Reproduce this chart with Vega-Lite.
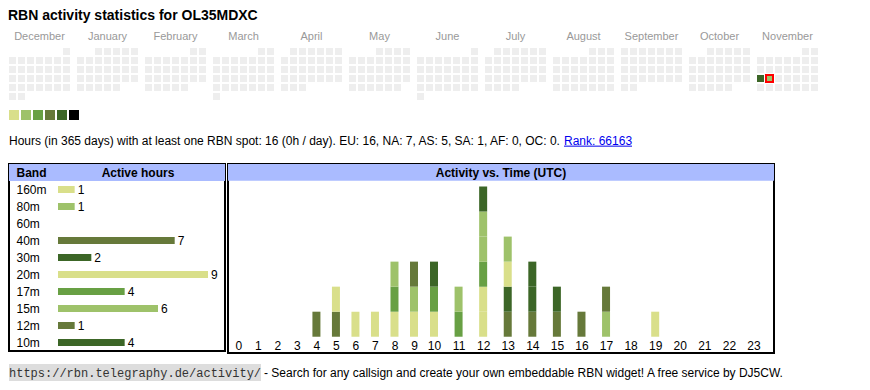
{
"$schema":"https://vega.github.io/schema/vega-lite/v6.json",
"padding":{"left":8,"top":9,"right":0,"bottom":0},
"background":"white",
"config":{"font":"Liberation Sans","view":{"stroke":null},"axis":{"grid":false,"domain":false,"ticks":false,"tickSize":0,"title":null}},
"title":{"text":"RBN activity statistics for OL35MDXC","anchor":"start","fontSize":14,"fontWeight":"bold","color":"#000000","font":"Liberation Sans","offset":7},
"datasets":{
"activity":[
{"hour":4,"band":"40m","order":1,"active":1},
{"hour":5,"band":"40m","order":1,"active":1},{"hour":5,"band":"20m","order":2,"active":1},
{"hour":6,"band":"20m","order":1,"active":1},
{"hour":7,"band":"20m","order":1,"active":1},
{"hour":8,"band":"20m","order":1,"active":1},{"hour":8,"band":"17m","order":2,"active":1},{"hour":8,"band":"15m","order":3,"active":1},
{"hour":9,"band":"20m","order":1,"active":1},{"hour":9,"band":"15m","order":2,"active":1},{"hour":9,"band":"12m","order":3,"active":1},
{"hour":10,"band":"20m","order":1,"active":1},{"hour":10,"band":"17m","order":2,"active":1},{"hour":10,"band":"10m","order":3,"active":1},
{"hour":11,"band":"17m","order":1,"active":1},{"hour":11,"band":"15m","order":2,"active":1},
{"hour":12,"band":"160m","order":1,"active":1},{"hour":12,"band":"20m","order":2,"active":1},{"hour":12,"band":"17m","order":3,"active":1},{"hour":12,"band":"80m","order":4,"active":1},{"hour":12,"band":"15m","order":5,"active":1},{"hour":12,"band":"10m","order":6,"active":1},
{"hour":13,"band":"40m","order":1,"active":1},{"hour":13,"band":"30m","order":2,"active":1},{"hour":13,"band":"20m","order":3,"active":1},{"hour":13,"band":"15m","order":4,"active":1},
{"hour":14,"band":"40m","order":1,"active":1},{"hour":14,"band":"30m","order":2,"active":1},{"hour":14,"band":"10m","order":3,"active":1},
{"hour":15,"band":"40m","order":1,"active":1},{"hour":15,"band":"10m","order":2,"active":1},
{"hour":16,"band":"40m","order":1,"active":1},
{"hour":17,"band":"15m","order":1,"active":1},{"hour":17,"band":"40m","order":2,"active":1},
{"hour":19,"band":"20m","order":1,"active":1}
],
"calendar":[
{"month":"December","week":0,"dow":6,"hours":0},
{"month":"December","week":1,"dow":0,"hours":0},{"month":"December","week":1,"dow":1,"hours":0},{"month":"December","week":1,"dow":2,"hours":0},{"month":"December","week":1,"dow":3,"hours":0},{"month":"December","week":1,"dow":4,"hours":0},{"month":"December","week":1,"dow":5,"hours":0},{"month":"December","week":1,"dow":6,"hours":0},
{"month":"December","week":2,"dow":0,"hours":0},{"month":"December","week":2,"dow":1,"hours":0},{"month":"December","week":2,"dow":2,"hours":0},{"month":"December","week":2,"dow":3,"hours":0},{"month":"December","week":2,"dow":4,"hours":0},{"month":"December","week":2,"dow":5,"hours":0},{"month":"December","week":2,"dow":6,"hours":0},
{"month":"December","week":3,"dow":0,"hours":0},{"month":"December","week":3,"dow":1,"hours":0},{"month":"December","week":3,"dow":2,"hours":0},{"month":"December","week":3,"dow":3,"hours":0},{"month":"December","week":3,"dow":4,"hours":0},{"month":"December","week":3,"dow":5,"hours":0},{"month":"December","week":3,"dow":6,"hours":0},
{"month":"December","week":4,"dow":0,"hours":0},{"month":"December","week":4,"dow":1,"hours":0},{"month":"December","week":4,"dow":2,"hours":0},{"month":"December","week":4,"dow":3,"hours":0},{"month":"December","week":4,"dow":4,"hours":0},{"month":"December","week":4,"dow":5,"hours":0},{"month":"December","week":4,"dow":6,"hours":0},
{"month":"December","week":5,"dow":0,"hours":0},{"month":"December","week":5,"dow":1,"hours":0},
{"month":"January","week":0,"dow":2,"hours":0},{"month":"January","week":0,"dow":3,"hours":0},{"month":"January","week":0,"dow":4,"hours":0},{"month":"January","week":0,"dow":5,"hours":0},{"month":"January","week":0,"dow":6,"hours":0},
{"month":"January","week":1,"dow":0,"hours":0},{"month":"January","week":1,"dow":1,"hours":0},{"month":"January","week":1,"dow":2,"hours":0},{"month":"January","week":1,"dow":3,"hours":0},{"month":"January","week":1,"dow":4,"hours":0},{"month":"January","week":1,"dow":5,"hours":0},{"month":"January","week":1,"dow":6,"hours":0},
{"month":"January","week":2,"dow":0,"hours":0},{"month":"January","week":2,"dow":1,"hours":0},{"month":"January","week":2,"dow":2,"hours":0},{"month":"January","week":2,"dow":3,"hours":0},{"month":"January","week":2,"dow":4,"hours":0},{"month":"January","week":2,"dow":5,"hours":0},{"month":"January","week":2,"dow":6,"hours":0},
{"month":"January","week":3,"dow":0,"hours":0},{"month":"January","week":3,"dow":1,"hours":0},{"month":"January","week":3,"dow":2,"hours":0},{"month":"January","week":3,"dow":3,"hours":0},{"month":"January","week":3,"dow":4,"hours":0},{"month":"January","week":3,"dow":5,"hours":0},{"month":"January","week":3,"dow":6,"hours":0},
{"month":"January","week":4,"dow":0,"hours":0},{"month":"January","week":4,"dow":1,"hours":0},{"month":"January","week":4,"dow":2,"hours":0},{"month":"January","week":4,"dow":3,"hours":0},{"month":"January","week":4,"dow":4,"hours":0},
{"month":"February","week":0,"dow":5,"hours":0},{"month":"February","week":0,"dow":6,"hours":0},
{"month":"February","week":1,"dow":0,"hours":0},{"month":"February","week":1,"dow":1,"hours":0},{"month":"February","week":1,"dow":2,"hours":0},{"month":"February","week":1,"dow":3,"hours":0},{"month":"February","week":1,"dow":4,"hours":0},{"month":"February","week":1,"dow":5,"hours":0},{"month":"February","week":1,"dow":6,"hours":0},
{"month":"February","week":2,"dow":0,"hours":0},{"month":"February","week":2,"dow":1,"hours":0},{"month":"February","week":2,"dow":2,"hours":0},{"month":"February","week":2,"dow":3,"hours":0},{"month":"February","week":2,"dow":4,"hours":0},{"month":"February","week":2,"dow":5,"hours":0},{"month":"February","week":2,"dow":6,"hours":0},
{"month":"February","week":3,"dow":0,"hours":0},{"month":"February","week":3,"dow":1,"hours":0},{"month":"February","week":3,"dow":2,"hours":0},{"month":"February","week":3,"dow":3,"hours":0},{"month":"February","week":3,"dow":4,"hours":0},{"month":"February","week":3,"dow":5,"hours":0},{"month":"February","week":3,"dow":6,"hours":0},
{"month":"February","week":4,"dow":0,"hours":0},{"month":"February","week":4,"dow":1,"hours":0},{"month":"February","week":4,"dow":2,"hours":0},{"month":"February","week":4,"dow":3,"hours":0},{"month":"February","week":4,"dow":4,"hours":0},
{"month":"March","week":0,"dow":5,"hours":0},{"month":"March","week":0,"dow":6,"hours":0},
{"month":"March","week":1,"dow":0,"hours":0},{"month":"March","week":1,"dow":1,"hours":0},{"month":"March","week":1,"dow":2,"hours":0},{"month":"March","week":1,"dow":3,"hours":0},{"month":"March","week":1,"dow":4,"hours":0},{"month":"March","week":1,"dow":5,"hours":0},{"month":"March","week":1,"dow":6,"hours":0},
{"month":"March","week":2,"dow":0,"hours":0},{"month":"March","week":2,"dow":1,"hours":0},{"month":"March","week":2,"dow":2,"hours":0},{"month":"March","week":2,"dow":3,"hours":0},{"month":"March","week":2,"dow":4,"hours":0},{"month":"March","week":2,"dow":5,"hours":0},{"month":"March","week":2,"dow":6,"hours":0},
{"month":"March","week":3,"dow":0,"hours":0},{"month":"March","week":3,"dow":1,"hours":0},{"month":"March","week":3,"dow":2,"hours":0},{"month":"March","week":3,"dow":3,"hours":0},{"month":"March","week":3,"dow":4,"hours":0},{"month":"March","week":3,"dow":5,"hours":0},{"month":"March","week":3,"dow":6,"hours":0},
{"month":"March","week":4,"dow":0,"hours":0},{"month":"March","week":4,"dow":1,"hours":0},{"month":"March","week":4,"dow":2,"hours":0},{"month":"March","week":4,"dow":3,"hours":0},{"month":"March","week":4,"dow":4,"hours":0},{"month":"March","week":4,"dow":5,"hours":0},{"month":"March","week":4,"dow":6,"hours":0},
{"month":"March","week":5,"dow":0,"hours":0},
{"month":"April","week":0,"dow":1,"hours":0},{"month":"April","week":0,"dow":2,"hours":0},{"month":"April","week":0,"dow":3,"hours":0},{"month":"April","week":0,"dow":4,"hours":0},{"month":"April","week":0,"dow":5,"hours":0},{"month":"April","week":0,"dow":6,"hours":0},
{"month":"April","week":1,"dow":0,"hours":0},{"month":"April","week":1,"dow":1,"hours":0},{"month":"April","week":1,"dow":2,"hours":0},{"month":"April","week":1,"dow":3,"hours":0},{"month":"April","week":1,"dow":4,"hours":0},{"month":"April","week":1,"dow":5,"hours":0},{"month":"April","week":1,"dow":6,"hours":0},
{"month":"April","week":2,"dow":0,"hours":0},{"month":"April","week":2,"dow":1,"hours":0},{"month":"April","week":2,"dow":2,"hours":0},{"month":"April","week":2,"dow":3,"hours":0},{"month":"April","week":2,"dow":4,"hours":0},{"month":"April","week":2,"dow":5,"hours":0},{"month":"April","week":2,"dow":6,"hours":0},
{"month":"April","week":3,"dow":0,"hours":0},{"month":"April","week":3,"dow":1,"hours":0},{"month":"April","week":3,"dow":2,"hours":0},{"month":"April","week":3,"dow":3,"hours":0},{"month":"April","week":3,"dow":4,"hours":0},{"month":"April","week":3,"dow":5,"hours":0},{"month":"April","week":3,"dow":6,"hours":0},
{"month":"April","week":4,"dow":0,"hours":0},{"month":"April","week":4,"dow":1,"hours":0},{"month":"April","week":4,"dow":2,"hours":0},
{"month":"May","week":0,"dow":3,"hours":0},{"month":"May","week":0,"dow":4,"hours":0},{"month":"May","week":0,"dow":5,"hours":0},{"month":"May","week":0,"dow":6,"hours":0},
{"month":"May","week":1,"dow":0,"hours":0},{"month":"May","week":1,"dow":1,"hours":0},{"month":"May","week":1,"dow":2,"hours":0},{"month":"May","week":1,"dow":3,"hours":0},{"month":"May","week":1,"dow":4,"hours":0},{"month":"May","week":1,"dow":5,"hours":0},{"month":"May","week":1,"dow":6,"hours":0},
{"month":"May","week":2,"dow":0,"hours":0},{"month":"May","week":2,"dow":1,"hours":0},{"month":"May","week":2,"dow":2,"hours":0},{"month":"May","week":2,"dow":3,"hours":0},{"month":"May","week":2,"dow":4,"hours":0},{"month":"May","week":2,"dow":5,"hours":0},{"month":"May","week":2,"dow":6,"hours":0},
{"month":"May","week":3,"dow":0,"hours":0},{"month":"May","week":3,"dow":1,"hours":0},{"month":"May","week":3,"dow":2,"hours":0},{"month":"May","week":3,"dow":3,"hours":0},{"month":"May","week":3,"dow":4,"hours":0},{"month":"May","week":3,"dow":5,"hours":0},{"month":"May","week":3,"dow":6,"hours":0},
{"month":"May","week":4,"dow":0,"hours":0},{"month":"May","week":4,"dow":1,"hours":0},{"month":"May","week":4,"dow":2,"hours":0},{"month":"May","week":4,"dow":3,"hours":0},{"month":"May","week":4,"dow":4,"hours":0},{"month":"May","week":4,"dow":5,"hours":0},
{"month":"June","week":0,"dow":6,"hours":0},
{"month":"June","week":1,"dow":0,"hours":0},{"month":"June","week":1,"dow":1,"hours":0},{"month":"June","week":1,"dow":2,"hours":0},{"month":"June","week":1,"dow":3,"hours":0},{"month":"June","week":1,"dow":4,"hours":0},{"month":"June","week":1,"dow":5,"hours":0},{"month":"June","week":1,"dow":6,"hours":0},
{"month":"June","week":2,"dow":0,"hours":0},{"month":"June","week":2,"dow":1,"hours":0},{"month":"June","week":2,"dow":2,"hours":0},{"month":"June","week":2,"dow":3,"hours":0},{"month":"June","week":2,"dow":4,"hours":0},{"month":"June","week":2,"dow":5,"hours":0},{"month":"June","week":2,"dow":6,"hours":0},
{"month":"June","week":3,"dow":0,"hours":0},{"month":"June","week":3,"dow":1,"hours":0},{"month":"June","week":3,"dow":2,"hours":0},{"month":"June","week":3,"dow":3,"hours":0},{"month":"June","week":3,"dow":4,"hours":0},{"month":"June","week":3,"dow":5,"hours":0},{"month":"June","week":3,"dow":6,"hours":0},
{"month":"June","week":4,"dow":0,"hours":0},{"month":"June","week":4,"dow":1,"hours":0},{"month":"June","week":4,"dow":2,"hours":0},{"month":"June","week":4,"dow":3,"hours":0},{"month":"June","week":4,"dow":4,"hours":0},{"month":"June","week":4,"dow":5,"hours":0},{"month":"June","week":4,"dow":6,"hours":0},
{"month":"June","week":5,"dow":0,"hours":0},
{"month":"July","week":0,"dow":1,"hours":0},{"month":"July","week":0,"dow":2,"hours":0},{"month":"July","week":0,"dow":3,"hours":0},{"month":"July","week":0,"dow":4,"hours":0},{"month":"July","week":0,"dow":5,"hours":0},{"month":"July","week":0,"dow":6,"hours":0},
{"month":"July","week":1,"dow":0,"hours":0},{"month":"July","week":1,"dow":1,"hours":0},{"month":"July","week":1,"dow":2,"hours":0},{"month":"July","week":1,"dow":3,"hours":0},{"month":"July","week":1,"dow":4,"hours":0},{"month":"July","week":1,"dow":5,"hours":0},{"month":"July","week":1,"dow":6,"hours":0},
{"month":"July","week":2,"dow":0,"hours":0},{"month":"July","week":2,"dow":1,"hours":0},{"month":"July","week":2,"dow":2,"hours":0},{"month":"July","week":2,"dow":3,"hours":0},{"month":"July","week":2,"dow":4,"hours":0},{"month":"July","week":2,"dow":5,"hours":0},{"month":"July","week":2,"dow":6,"hours":0},
{"month":"July","week":3,"dow":0,"hours":0},{"month":"July","week":3,"dow":1,"hours":0},{"month":"July","week":3,"dow":2,"hours":0},{"month":"July","week":3,"dow":3,"hours":0},{"month":"July","week":3,"dow":4,"hours":0},{"month":"July","week":3,"dow":5,"hours":0},{"month":"July","week":3,"dow":6,"hours":0},
{"month":"July","week":4,"dow":0,"hours":0},{"month":"July","week":4,"dow":1,"hours":0},{"month":"July","week":4,"dow":2,"hours":0},{"month":"July","week":4,"dow":3,"hours":0},
{"month":"August","week":0,"dow":4,"hours":0},{"month":"August","week":0,"dow":5,"hours":0},{"month":"August","week":0,"dow":6,"hours":0},
{"month":"August","week":1,"dow":0,"hours":0},{"month":"August","week":1,"dow":1,"hours":0},{"month":"August","week":1,"dow":2,"hours":0},{"month":"August","week":1,"dow":3,"hours":0},{"month":"August","week":1,"dow":4,"hours":0},{"month":"August","week":1,"dow":5,"hours":0},{"month":"August","week":1,"dow":6,"hours":0},
{"month":"August","week":2,"dow":0,"hours":0},{"month":"August","week":2,"dow":1,"hours":0},{"month":"August","week":2,"dow":2,"hours":0},{"month":"August","week":2,"dow":3,"hours":0},{"month":"August","week":2,"dow":4,"hours":0},{"month":"August","week":2,"dow":5,"hours":0},{"month":"August","week":2,"dow":6,"hours":0},
{"month":"August","week":3,"dow":0,"hours":0},{"month":"August","week":3,"dow":1,"hours":0},{"month":"August","week":3,"dow":2,"hours":0},{"month":"August","week":3,"dow":3,"hours":0},{"month":"August","week":3,"dow":4,"hours":0},{"month":"August","week":3,"dow":5,"hours":0},{"month":"August","week":3,"dow":6,"hours":0},
{"month":"August","week":4,"dow":0,"hours":0},{"month":"August","week":4,"dow":1,"hours":0},{"month":"August","week":4,"dow":2,"hours":0},{"month":"August","week":4,"dow":3,"hours":0},{"month":"August","week":4,"dow":4,"hours":0},{"month":"August","week":4,"dow":5,"hours":0},{"month":"August","week":4,"dow":6,"hours":0},
{"month":"September","week":0,"dow":0,"hours":0},{"month":"September","week":0,"dow":1,"hours":0},{"month":"September","week":0,"dow":2,"hours":0},{"month":"September","week":0,"dow":3,"hours":0},{"month":"September","week":0,"dow":4,"hours":0},{"month":"September","week":0,"dow":5,"hours":0},{"month":"September","week":0,"dow":6,"hours":0},
{"month":"September","week":1,"dow":0,"hours":0},{"month":"September","week":1,"dow":1,"hours":0},{"month":"September","week":1,"dow":2,"hours":0},{"month":"September","week":1,"dow":3,"hours":0},{"month":"September","week":1,"dow":4,"hours":0},{"month":"September","week":1,"dow":5,"hours":0},{"month":"September","week":1,"dow":6,"hours":0},
{"month":"September","week":2,"dow":0,"hours":0},{"month":"September","week":2,"dow":1,"hours":0},{"month":"September","week":2,"dow":2,"hours":0},{"month":"September","week":2,"dow":3,"hours":0},{"month":"September","week":2,"dow":4,"hours":0},{"month":"September","week":2,"dow":5,"hours":0},{"month":"September","week":2,"dow":6,"hours":0},
{"month":"September","week":3,"dow":0,"hours":0},{"month":"September","week":3,"dow":1,"hours":0},{"month":"September","week":3,"dow":2,"hours":0},{"month":"September","week":3,"dow":3,"hours":0},{"month":"September","week":3,"dow":4,"hours":0},{"month":"September","week":3,"dow":5,"hours":0},{"month":"September","week":3,"dow":6,"hours":0},
{"month":"September","week":4,"dow":0,"hours":0},{"month":"September","week":4,"dow":1,"hours":0},
{"month":"October","week":0,"dow":2,"hours":0},{"month":"October","week":0,"dow":3,"hours":0},{"month":"October","week":0,"dow":4,"hours":0},{"month":"October","week":0,"dow":5,"hours":0},{"month":"October","week":0,"dow":6,"hours":0},
{"month":"October","week":1,"dow":0,"hours":0},{"month":"October","week":1,"dow":1,"hours":0},{"month":"October","week":1,"dow":2,"hours":0},{"month":"October","week":1,"dow":3,"hours":0},{"month":"October","week":1,"dow":4,"hours":0},{"month":"October","week":1,"dow":5,"hours":0},{"month":"October","week":1,"dow":6,"hours":0},
{"month":"October","week":2,"dow":0,"hours":0},{"month":"October","week":2,"dow":1,"hours":0},{"month":"October","week":2,"dow":2,"hours":0},{"month":"October","week":2,"dow":3,"hours":0},{"month":"October","week":2,"dow":4,"hours":0},{"month":"October","week":2,"dow":5,"hours":0},{"month":"October","week":2,"dow":6,"hours":0},
{"month":"October","week":3,"dow":0,"hours":0},{"month":"October","week":3,"dow":1,"hours":0},{"month":"October","week":3,"dow":2,"hours":0},{"month":"October","week":3,"dow":3,"hours":0},{"month":"October","week":3,"dow":4,"hours":0},{"month":"October","week":3,"dow":5,"hours":0},{"month":"October","week":3,"dow":6,"hours":0},
{"month":"October","week":4,"dow":0,"hours":0},{"month":"October","week":4,"dow":1,"hours":0},{"month":"October","week":4,"dow":2,"hours":0},{"month":"October","week":4,"dow":3,"hours":0},{"month":"October","week":4,"dow":4,"hours":0},
{"month":"November","week":0,"dow":5,"hours":0},{"month":"November","week":0,"dow":6,"hours":0},
{"month":"November","week":1,"dow":0,"hours":0},{"month":"November","week":1,"dow":1,"hours":0},{"month":"November","week":1,"dow":2,"hours":0},{"month":"November","week":1,"dow":3,"hours":0},{"month":"November","week":1,"dow":4,"hours":0},{"month":"November","week":1,"dow":5,"hours":0},{"month":"November","week":1,"dow":6,"hours":0},
{"month":"November","week":2,"dow":0,"hours":0},{"month":"November","week":2,"dow":1,"hours":0},{"month":"November","week":2,"dow":2,"hours":0},{"month":"November","week":2,"dow":3,"hours":0},{"month":"November","week":2,"dow":4,"hours":0},{"month":"November","week":2,"dow":5,"hours":0},{"month":"November","week":2,"dow":6,"hours":0},
{"month":"November","week":3,"dow":0,"hours":12},{"month":"November","week":3,"dow":1,"hours":4,"today":true},{"month":"November","week":3,"dow":2,"hours":0},{"month":"November","week":3,"dow":3,"hours":0},{"month":"November","week":3,"dow":4,"hours":0},{"month":"November","week":3,"dow":5,"hours":0},{"month":"November","week":3,"dow":6,"hours":0},
{"month":"November","week":4,"dow":0,"hours":0},{"month":"November","week":4,"dow":1,"hours":0},{"month":"November","week":4,"dow":2,"hours":0},{"month":"November","week":4,"dow":3,"hours":0},{"month":"November","week":4,"dow":4,"hours":0},{"month":"November","week":4,"dow":5,"hours":0},{"month":"November","week":4,"dow":6,"hours":0}
]
},
"spacing":10,
"resolve":{"scale":{"color":"independent"},"legend":{"color":"independent"}},
"vconcat":[
{
"width":809,"height":52,
"data":{"name":"calendar"},
"mark":{"type":"rect"},
"encoding":{
"x":{"field":"month","type":"nominal","sort":["December","January","February","March","April","May","June","July","August","September","October","November"],"scale":{"paddingInner":0.10294,"paddingOuter":0},"axis":{"orient":"top","labelColor":"#999999","labelFontSize":11,"labelPadding":7,"labelAngle":0}},
"xOffset":{"field":"dow","type":"ordinal","scale":{"paddingInner":0.2222,"paddingOuter":0}},
"y":{"field":"week","type":"ordinal","scale":{"paddingInner":0.2222,"paddingOuter":0},"axis":null},
"color":{"field":"hours","type":"quantitative","scale":{"type":"threshold","domain":[1,3,5,7,10,13],"range":["#eeeeee","#d9df8a","#9ec26a","#68a044","#66793a","#3c6627","#000000"]},"legend":null},
"stroke":{"condition":{"test":"datum.today === true","value":"#ff0000"},"value":"transparent"},
"strokeWidth":{"condition":{"test":"datum.today === true","value":2},"value":0}
}
},
{
"width":70,"height":10,
"data":{"values":[{"level":1},{"level":2},{"level":3},{"level":4},{"level":5},{"level":6}]},
"mark":{"type":"rect"},
"encoding":{
"x":{"field":"level","type":"ordinal","scale":{"paddingInner":0.1667,"paddingOuter":0},"axis":null},
"color":{"field":"level","type":"ordinal","scale":{"range":["#d9df8a","#9ec26a","#68a044","#66793a","#3c6627","#000000"]},"legend":null}
}
},
{
"width":555,"height":22.3,
"data":{"values":[{"part":"stats","text":"Hours (in 365 days) with at least one RBN spot: 16 (0h / day). EU: 16, NA: 7, AS: 5, SA: 1, AF: 0, OC: 0."},{"part":"rank","text":"Rank: 66163"}]},
"layer":[
{"mark":{"type":"text","align":"left","baseline":"middle","fontSize":12},
"encoding":{"x":{"field":"part","type":"nominal","scale":{"type":"point","padding":0,"domain":["stats","rank"]},"axis":null},"text":{"field":"text"},"color":{"condition":{"test":"datum.part === 'rank'","value":"#0000ee"},"value":"#000000"}}},
{"transform":[{"filter":"datum.part === 'rank'"}],
"mark":{"type":"rule","color":"#0000ee","strokeWidth":1,"x2Offset":68,"yOffset":5},
"encoding":{"x":{"field":"part","type":"nominal"},"x2":{"field":"part"}}}
]
},
{
"hconcat":[
{
"width":216,"height":187,
"view":{"stroke":"#000000","strokeWidth":2},
"layer":[
{"data":{"values":[{"header":"Band"}]},"mark":{"type":"rect","color":"#aabbff"},"encoding":{"y":{"field":"header","type":"nominal"},"x":{"datum":-2.94},"x2":{"datum":10.02}}},
{"data":{"name":"activity"},"transform":[{"aggregate":[{"op":"count","as":"hours"}],"groupby":["band"]}],
"mark":{"type":"bar","size":7},
"encoding":{
"y":{"field":"band","type":"nominal","scale":{"domain":["Band","160m","80m","60m","40m","30m","20m","17m","15m","12m","10m"],"paddingInner":0,"paddingOuter":0},"axis":{"orient":"left","labelAlign":"left","labelPadding":-7,"labelFontSize":12,"labelColor":"#000000","labelFontWeight":{"condition":{"test":"datum.value === 'Band'","value":"bold"},"value":"normal"},"zindex":1}},
"x":{"field":"hours","type":"quantitative","scale":{"domain":[-2.94,10.02],"nice":false,"zero":false},"axis":null},
"color":{"field":"band","type":"nominal","scale":{"domain":["160m","80m","60m","40m","30m","20m","17m","15m","12m","10m"],"range":["#d9df8a","#9ec26a","#68a044","#66793a","#3c6627","#d9df8a","#68a044","#9ec26a","#66793a","#3c6627"]},"legend":null}
}},
{"data":{"name":"activity"},"transform":[{"aggregate":[{"op":"count","as":"hours"}],"groupby":["band"]}],
"mark":{"type":"text","align":"left","baseline":"middle","dx":3,"fontSize":12,"color":"#000000"},
"encoding":{"y":{"field":"band","type":"nominal"},"x":{"field":"hours","type":"quantitative"},"text":{"field":"hours"}}},
{"data":{"values":[{"header":"Band","title":"Active hours"}]},"mark":{"type":"text","fontWeight":"bold","fontSize":12,"color":"#000000"},"encoding":{"x":{"datum":4.8},"y":{"field":"header","type":"nominal"},"text":{"field":"title"}}}
]
},
{
"width":546,"height":189,
"view":{"stroke":"#000000","strokeWidth":2},
"layer":[
{"data":{"values":[{"title":"Activity vs. Time (UTC)"}]},"mark":{"type":"rect","color":"#aabbff"},"encoding":{"y":{"datum":6.9},"y2":{"datum":6.23}}},
{"data":{"values":[{"title":"Activity vs. Time (UTC)"}]},"mark":{"type":"text","fontWeight":"bold","fontSize":12,"color":"#000000"},"encoding":{"y":{"datum":6.56},"text":{"field":"title"}}},
{"data":{"name":"activity"},
"mark":{"type":"bar","width":8,"orient":"vertical"},
"encoding":{
"x":{"field":"hour","type":"quantitative","scale":{"domain":[0,9,10,23],"range":[6,186,206,531]},"axis":{"values":[0,1,2,3,4,5,6,7,8,9,10,11,12,13,14,15,16,17,18,19,20,21,22,23],"format":"d","labelPadding":-13,"labelFontSize":12,"labelColor":"#000000","labelFlush":false,"labelOverlap":false}},
"y":{"field":"active","type":"quantitative","stack":"zero","scale":{"domain":[-0.65,6.9],"nice":false,"zero":false},"axis":null},
"color":{"field":"band","type":"nominal","scale":{"domain":["160m","80m","60m","40m","30m","20m","17m","15m","12m","10m"],"range":["#d9df8a","#9ec26a","#68a044","#66793a","#3c6627","#d9df8a","#68a044","#9ec26a","#66793a","#3c6627"]},"legend":null},
"order":{"field":"order","type":"quantitative"}
}}
]
}
],
"spacing":1,
"resolve":{"scale":{"color":"independent"},"legend":{"color":"independent"}}
},
{
"width":255,"height":17,
"data":{"values":[{"part":"url","text":"https://rbn.telegraphy.de/activity/"},{"part":"about","text":"- Search for any callsign and create your own embeddable RBN widget! A free service by DJ5CW."}]},
"layer":[
{"transform":[{"filter":"datum.part === 'url'"}],"mark":{"type":"rect","color":"#dddddd","x2Offset":-3},"encoding":{"x":{"field":"part","type":"nominal","scale":{"type":"point","padding":0,"domain":["url","about"]},"axis":null},"x2":{"datum":"about"}}},
{"transform":[{"filter":"datum.part === 'url'"}],"mark":{"type":"text","align":"left","baseline":"middle","font":"Liberation Mono","fontSize":12,"color":"#333333"},"encoding":{"x":{"field":"part","type":"nominal"},"text":{"field":"text"}}},
{"transform":[{"filter":"datum.part === 'about'"}],"mark":{"type":"text","align":"left","baseline":"middle","fontSize":12,"color":"#000000"},"encoding":{"x":{"field":"part","type":"nominal"},"text":{"field":"text"}}}
]
}
]
}
